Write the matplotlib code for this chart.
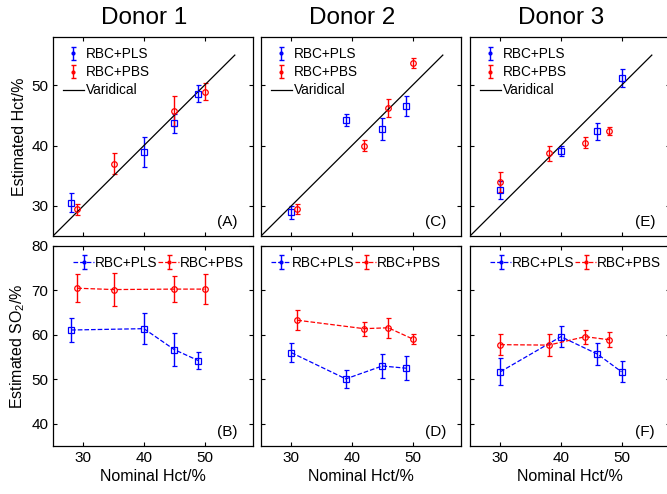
import numpy as np
import matplotlib
matplotlib.use("Agg")
import matplotlib.pyplot as plt
import matplotlib.transforms as mtransforms

plt.rcParams['font.family'] = ['Liberation Sans', 'DejaVu Sans']
plt.rcParams['mathtext.fontset'] = 'custom'
plt.rcParams['mathtext.rm'] = 'Liberation Sans'
plt.rcParams['mathtext.it'] = 'Liberation Sans'

# ---------------------------
# DATA
# ---------------------------
donors = ["Donor 1", "Donor 2", "Donor 3"]
top_tags = ["(A)", "(C)", "(E)"]
bottom_tags = ["(B)", "(D)", "(F)"]

pls_x = [[28, 40, 45, 49], [30, 39, 45, 49], [30, 40, 46, 50]]
pbs_x = [[29, 35, 45, 50], [31, 42, 46, 50], [30, 38, 44, 48]]

# estimated Hct
pls_hct = [[30.5, 39.0, 43.7, 48.6], [28.9, 44.3, 42.7, 46.6], [32.6, 39.1, 42.4, 51.2]]
pls_hct_err = [[1.6, 2.5, 1.6, 1.4], [1.0, 1.0, 1.8, 1.65], [1.45, 0.9, 1.4, 1.55]]
pbs_hct = [[29.4, 37.0, 45.7, 48.9], [29.5, 40.0, 46.3, 53.7], [33.9, 38.7, 40.5, 42.4]]
pbs_hct_err = [[0.9, 1.8, 2.5, 1.4], [0.85, 0.85, 1.5, 0.8], [1.65, 1.2, 0.85, 0.65]]

# estimated SO2
pls_so2 = [[61.1, 61.4, 56.7, 54.2], [56.0, 50.1, 53.0, 52.5], [51.7, 59.6, 55.7, 51.7]]
pls_so2_err = [[2.6, 3.5, 3.8, 1.9], [2.15, 2.0, 2.6, 2.75], [3.0, 2.4, 2.45, 2.4]]
pbs_so2 = [[70.5, 70.2, 70.3, 70.3], [63.3, 61.4, 61.6, 59.1], [57.8, 57.7, 59.6, 58.9]]
pbs_so2_err = [[3.2, 3.7, 3.0, 3.3], [2.25, 1.55, 2.2, 1.1], [2.35, 2.5, 1.55, 1.65]]

diag = [25, 55]
bottom_legend_loc = ["upper right", "upper left", "upper right"]

BLUE = (0, 0, 1)
RED = (1, 0, 0)

# ---------------------------
# FIGURE
# ---------------------------
fig = plt.figure(figsize=(6.67, 4.94), dpi=100)
lefts = [53 / 667, 261 / 667, 470 / 667]
w = 200 / 667
top_box = [1 - 236 / 494, 199 / 494]
bot_box = [1 - 446 / 494, 200 / 494]

err_kw = dict(capsize=1.8, elinewidth=1.0, capthick=1.0, markersize=4,
              markerfacecolor="none", markeredgewidth=0.9)
proxy_kw = dict(capsize=1.8, markersize=4, elinewidth=1.0)


def style_axis(ax):
    ax.tick_params(direction="in", top=True, right=True, length=3,
                   labelsize=11, width=0.8)
    for s in ax.spines.values():
        s.set_linewidth(0.9)
    ax.set_xlim(25, 58)
    ax.set_xticks([30, 40, 50])


for i in range(3):
    # ---- top row: estimated Hct ----
    ax = fig.add_axes([lefts[i], top_box[0], w, top_box[1]])
    ax.errorbar(pls_x[i], pls_hct[i], yerr=pls_hct_err[i], fmt="s", color=BLUE, **err_kw)
    ax.errorbar(pbs_x[i], pbs_hct[i], yerr=pbs_hct_err[i], fmt="o", color=RED, **err_kw)
    ax.plot(diag, diag, color="black", lw=0.9)
    # legend proxies (small filled dot, like the original)
    h1 = ax.errorbar([np.nan], [np.nan], yerr=[1], fmt=".", color=BLUE, **proxy_kw)
    h2 = ax.errorbar([np.nan], [np.nan], yerr=[1], fmt=".", color=RED, **proxy_kw)
    h3, = ax.plot([np.nan], [np.nan], color="black", lw=0.9)
    ax.legend([h1, h2, h3], ["RBC+PLS", "RBC+PBS", "Varidical"], loc="upper left",
              frameon=False, fontsize=9.8, handlelength=1.5, handletextpad=0.2,
              labelspacing=0.3, borderaxespad=0.55, borderpad=0.2)
    style_axis(ax)
    ax.set_ylim(25, 58)
    ax.set_yticks([30, 40, 50])
    ax.tick_params(labelbottom=False)
    if i == 0:
        ax.set_ylabel("Estimated Hct/%", fontsize=11.5, labelpad=3)
    else:
        ax.tick_params(labelleft=False)
    ax.text(0.925, 0.035, top_tags[i], transform=ax.transAxes, ha="right",
            va="bottom", fontsize=11)
    trans = mtransforms.blended_transform_factory(ax.transData, ax.transAxes)
    ax.text(40, 1.095, donors[i], transform=trans, ha="center", va="center",
            fontsize=17.5)

    # ---- bottom row: estimated SO2 ----
    ax = fig.add_axes([lefts[i], bot_box[0], w, bot_box[1]])
    ax.errorbar(pls_x[i], pls_so2[i], yerr=pls_so2_err[i], fmt="s--", color=BLUE,
                lw=0.9, **err_kw)
    ax.errorbar(pbs_x[i], pbs_so2[i], yerr=pbs_so2_err[i], fmt="o--", color=RED,
                lw=0.9, **err_kw)
    p1 = ax.errorbar([np.nan], [np.nan], yerr=[1], fmt=".--", color=BLUE, lw=0.9,
                     **proxy_kw)
    p2 = ax.errorbar([np.nan], [np.nan], yerr=[1], fmt=".--", color=RED, lw=0.9,
                     **proxy_kw)
    ax.legend([p1, p2], ["RBC+PLS", "RBC+PBS"], loc=bottom_legend_loc[i], ncol=2,
              frameon=False, fontsize=9.8, handlelength=1.5, handletextpad=0.05,
              columnspacing=0.1, borderaxespad=0.5, borderpad=0.2)
    style_axis(ax)
    ax.set_ylim(35, 80)
    ax.set_yticks([40, 50, 60, 70, 80])
    ax.set_xlabel("Nominal Hct/%", fontsize=11.5, labelpad=3)
    if i == 0:
        ax.set_ylabel("Estimated SO$_2$/%", fontsize=11.5, labelpad=3)
    else:
        ax.tick_params(labelleft=False)
    ax.text(0.925, 0.035, bottom_tags[i], transform=ax.transAxes, ha="right",
            va="bottom", fontsize=11)

fig.savefig("out.png", dpi=100)
plt.close(fig)
